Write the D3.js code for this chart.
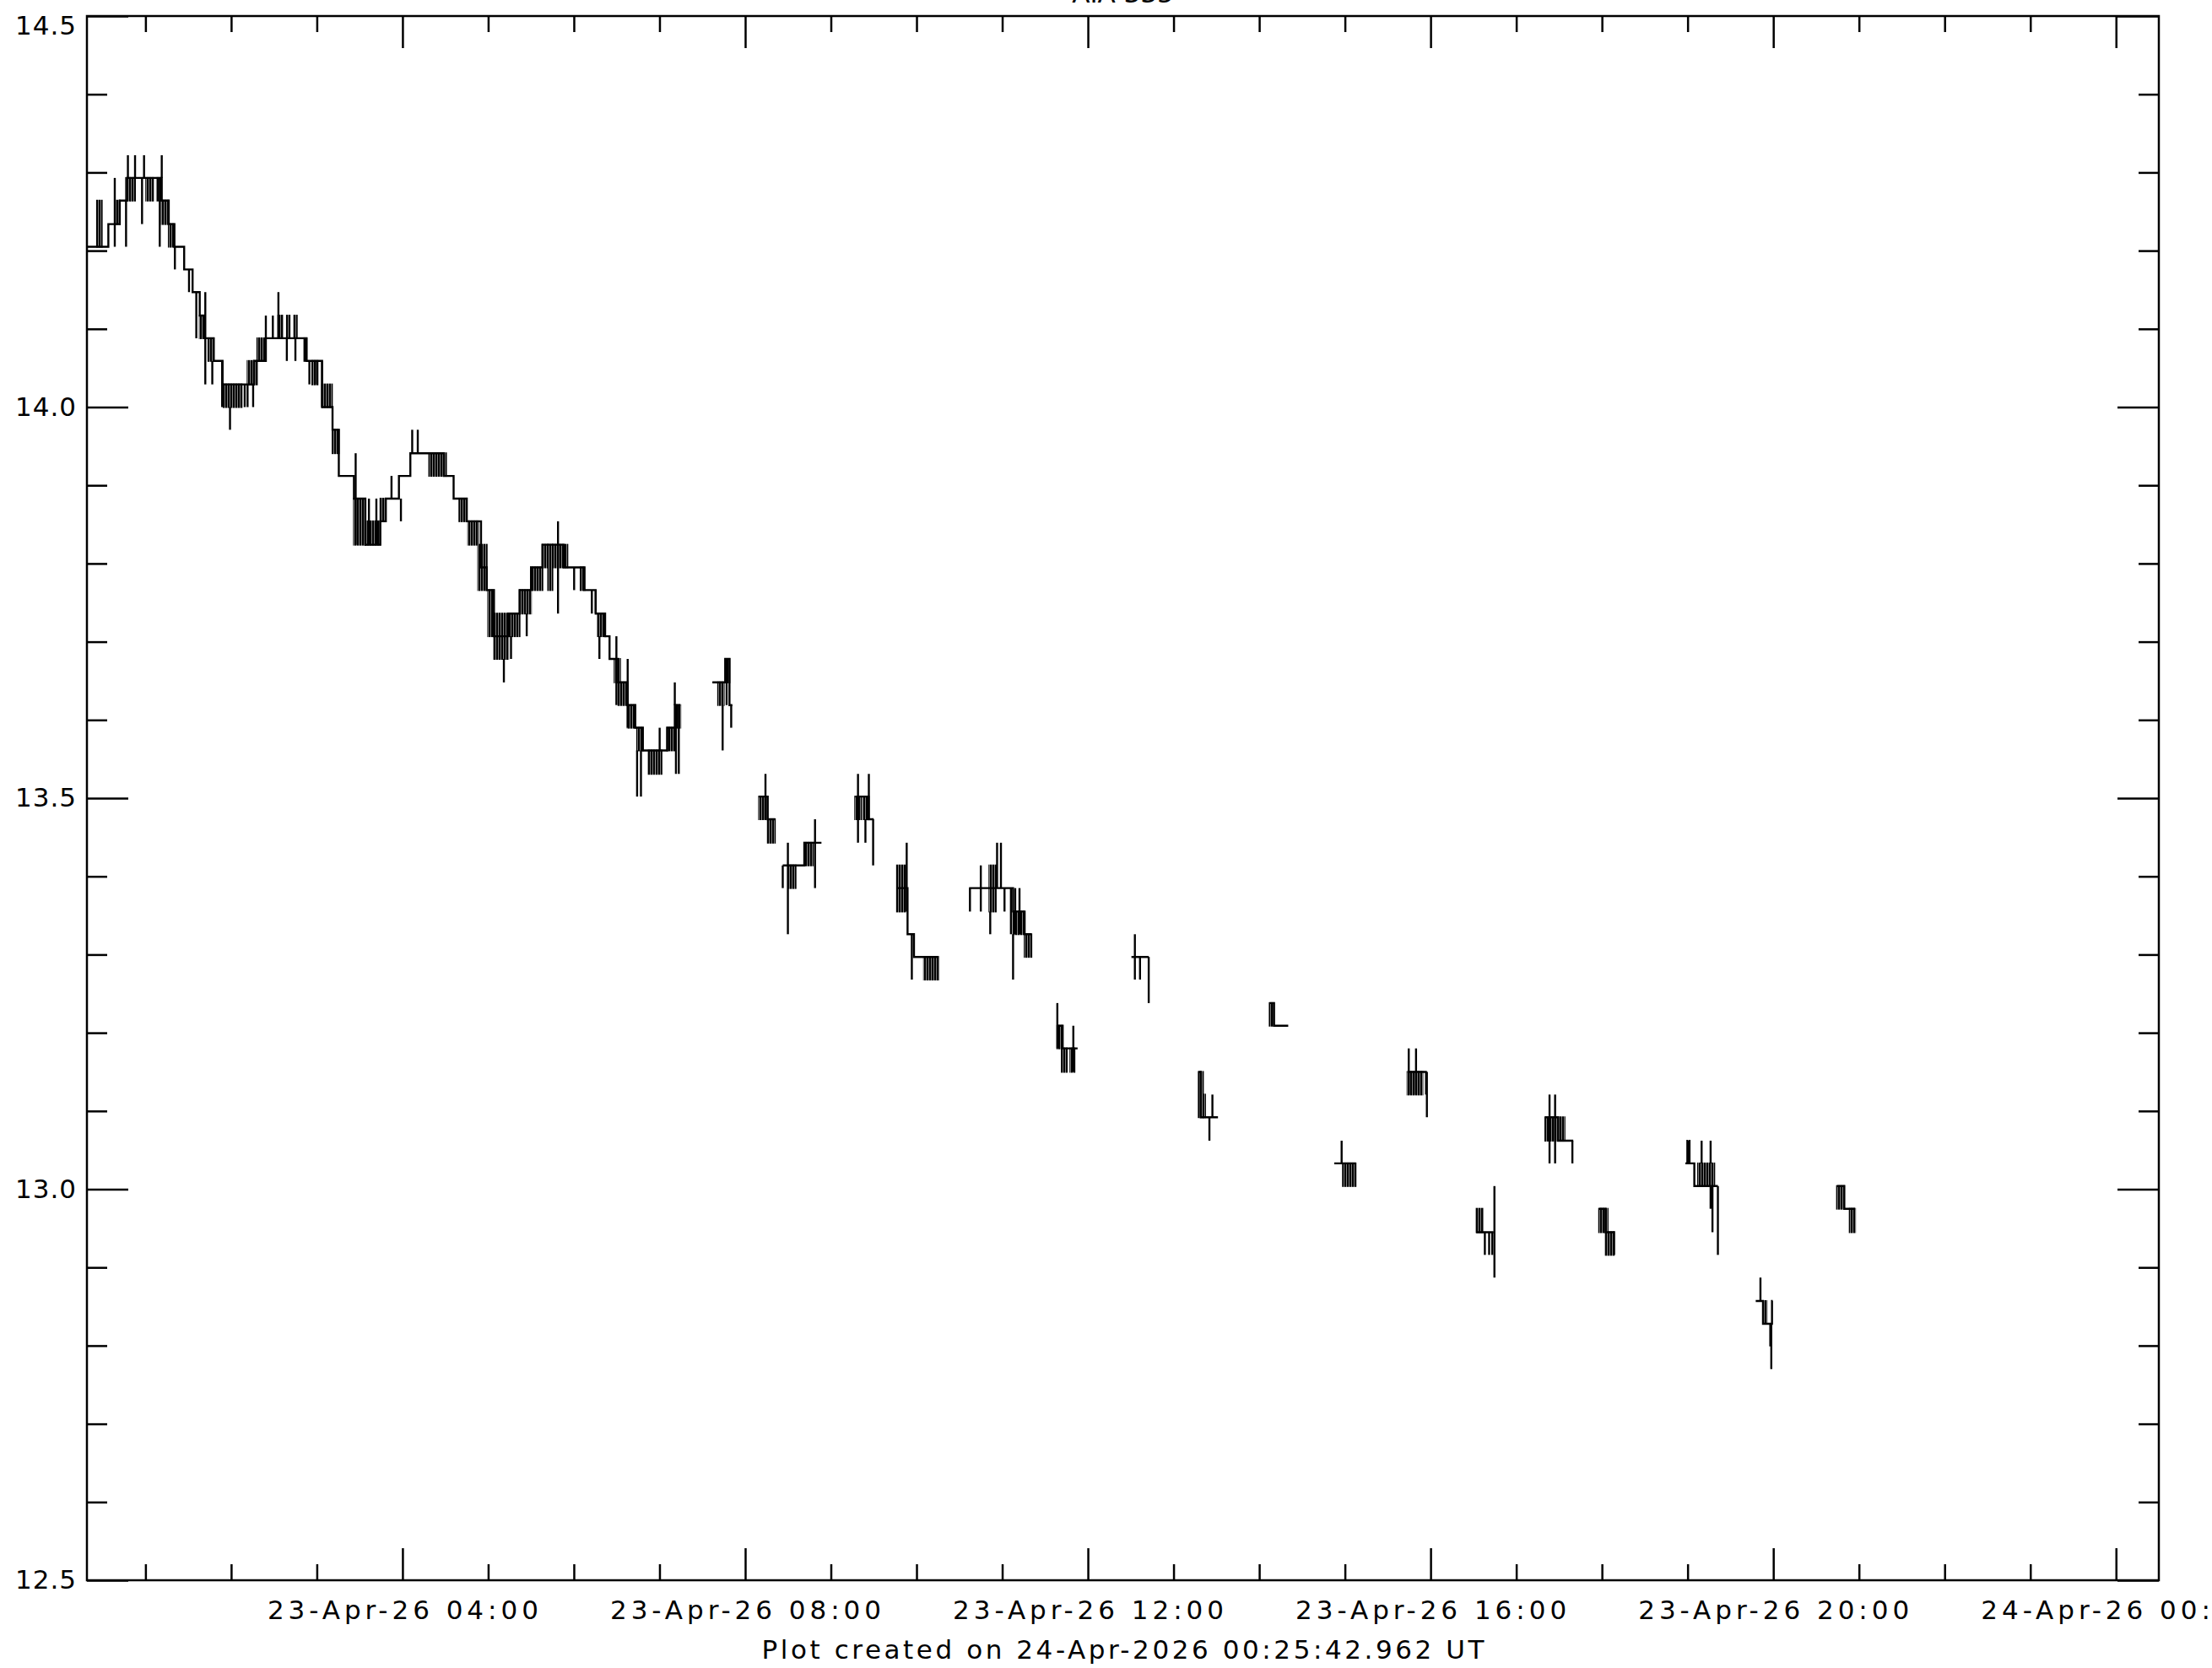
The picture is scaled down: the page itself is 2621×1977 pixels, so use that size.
<!DOCTYPE html>
<html>
<head>
<meta charset="utf-8">
<script src="https://cdn.jsdelivr.net/npm/d3@7"></script>
<style>
  html, body { margin: 0; padding: 0; background: #ffffff; }
  svg { display: block; }
  text { font-family: "DejaVu Sans", "Liberation Sans", sans-serif; fill: #000; }
</style>
</head>
<body>
<svg id="chart" width="2621" height="1977"></svg>
<script>
// ---------------- data (minutes counted from 23-Apr-2026 00:00 UT) ----------------
const titleText = "AIA 335";
const footerText = "Plot created on 24-Apr-2026 00:25:42.962 UT";
const baseTime = Date.UTC(2026, 3, 23, 0, 0, 0);
const xDomainMinutes = [19, 1470];
const yDomain = [12.5, 14.5];
const yMajorTicks = [12.5, 13.0, 13.5, 14.0, 14.5];
const yTickLabels = ["12.5", "13.0", "13.5", "14.0", "14.5"];
const xMajorTickMinutes = [240, 480, 720, 960, 1200, 1440];
const xTickLabels = ["23-Apr-26 04:00", "23-Apr-26 08:00", "23-Apr-26 12:00",
                     "23-Apr-26 16:00", "23-Apr-26 20:00", "24-Apr-26 00:00"];

// stepped trace: [minute, value] (value holds until next point); null = data gap
const stepPoints = [
  [19, 14.205], [34, 14.234], [42, 14.264], [47, 14.293], [71.4, 14.264], [76.3, 14.234],
  [80.2, 14.205], [87.1, 14.176], [93, 14.147], [98, 14.117], [101, 14.088], [107.8, 14.059],
  [114, 14.029], [136, 14.059], [144.3, 14.088], [172.8, 14.059], [183.7, 14.000], [191, 13.971],
  [195.4, 13.912], [206, 13.883], [214, 13.824], [224.4, 13.854], [228.3, 13.883], [237.5, 13.912],
  [245.5, 13.941], [269, 13.912], [275.8, 13.883], [285, 13.854], [295, 13.795], [299, 13.766],
  [304, 13.707], [314, 13.736], [322, 13.766], [330, 13.795], [338, 13.824], [352.9, 13.795],
  [367.4, 13.766], [375.3, 13.736], [381.9, 13.707], [385, 13.678], [391, 13.648], [397.7, 13.619],
  [403, 13.590], [408.3, 13.561], [425.4, 13.590], [430.7, 13.619], [434.6, 13.619], null,
  [457, 13.648], [466, 13.678], [469, 13.619], [471, 13.619], null,
  [489.5, 13.502], [495.7, 13.473], [501, 13.473], null,
  [506.3, 13.414], [521.4, 13.443], [533.4, 13.443], null,
  [557, 13.502], [566, 13.473], [570, 13.473], null,
  [586.2, 13.385], [593.7, 13.326], [598.2, 13.297], [615.4, 13.297], null,
  [636.8, 13.385], [667.6, 13.355], [675.7, 13.326], [680.5, 13.326], null,
  [698.6, 13.209], [702.3, 13.180], [712.8, 13.180], null,
  [750.5, 13.297], [762.6, 13.297], null,
  [797.6, 13.150], [799, 13.092], [811.1, 13.092], null,
  [847.3, 13.238], [850.3, 13.209], [860.3, 13.209], null,
  [892.5, 13.033], [907.6, 13.033], null,
  [943.8, 13.150], [957.4, 13.150], null,
  [992, 12.945], [1004.1, 12.945], null,
  [1040.3, 13.092], [1049.3, 13.062], [1059.9, 13.062], null,
  [1078, 12.975], [1082.5, 12.945], [1088.5, 12.916], null,
  [1138.4, 13.033], [1144.7, 13.004], [1161.2, 13.004], null,
  [1187.7, 12.857], [1192.8, 12.828], [1199.1, 12.857], [1199.6, 12.857], null,
  [1244.6, 13.004], [1249.7, 12.975], [1257.3, 12.975]
];

// rapid flicker between two adjacent levels: [startMinute, endMinute, low, high]
const flickerBands = [
  [26, 29.4, 14.205, 14.264], [38.5, 42, 14.234, 14.264], [46.4, 49, 14.264, 14.293],
  [49.7, 52.7, 14.264, 14.293], [60.5, 65.5, 14.264, 14.293], [68, 70.8, 14.264, 14.293],
  [71.4, 76.3, 14.234, 14.264], [76.3, 80.2, 14.205, 14.234], [98, 101, 14.088, 14.117],
  [104, 107.8, 14.059, 14.088], [114.7, 127.5, 14.000, 14.029], [131.5, 138.3, 14.029, 14.059],
  [138.3, 144.3, 14.059, 14.088], [153, 156, 14.088, 14.117], [159, 161, 14.088, 14.117],
  [164, 166, 14.088, 14.117], [171, 172.8, 14.059, 14.088], [176.8, 180.7, 14.029, 14.059],
  [183.7, 190.6, 14.000, 14.029], [191, 195.4, 13.941, 13.971], [206, 214, 13.824, 13.883],
  [214, 224.4, 13.824, 13.854], [224.4, 228.3, 13.854, 13.883], [258.7, 270.5, 13.912, 13.941],
  [279.8, 285, 13.854, 13.883], [286, 293, 13.824, 13.854], [293, 299, 13.766, 13.824],
  [300, 304, 13.707, 13.766], [304, 314, 13.678, 13.736], [314, 322, 13.707, 13.736],
  [322, 330, 13.736, 13.766], [330, 338, 13.766, 13.795], [338, 342, 13.795, 13.824],
  [342, 345, 13.766, 13.824], [345, 349, 13.795, 13.824], [350, 355.5, 13.795, 13.824],
  [364.7, 367.4, 13.766, 13.795], [376.6, 381.9, 13.707, 13.736], [388.5, 392.4, 13.648, 13.678],
  [391.1, 397.7, 13.619, 13.648], [397.7, 403, 13.590, 13.619], [404.3, 408.3, 13.561, 13.590],
  [412.2, 416.2, 13.531, 13.561], [417.5, 421.4, 13.531, 13.561], [425.4, 430.7, 13.561, 13.590],
  [431, 434.6, 13.590, 13.619],
  [461, 465, 13.619, 13.648], [466.3, 469, 13.648, 13.678],
  [489.7, 495.7, 13.473, 13.502], [495.7, 500.8, 13.443, 13.473],
  [510.8, 515.3, 13.385, 13.414], [521.4, 527.4, 13.414, 13.443],
  [557, 561, 13.473, 13.502], [562.5, 566.6, 13.473, 13.502],
  [586.2, 592.2, 13.355, 13.414], [605.2, 615.4, 13.268, 13.297],
  [651, 655.5, 13.355, 13.414], [667.6, 675.1, 13.326, 13.355], [675.7, 680.5, 13.297, 13.326],
  [698.6, 702.3, 13.180, 13.209], [701.7, 705.3, 13.150, 13.180], [707.7, 710.7, 13.150, 13.180],
  [797.6, 800.6, 13.092, 13.150], [800.6, 802.1, 13.092, 13.121],
  [847.3, 850.3, 13.209, 13.238],
  [898.6, 907.6, 13.004, 13.033],
  [943.8, 954.3, 13.121, 13.150],
  [992, 996.6, 12.945, 12.975],
  [1040.3, 1053.8, 13.062, 13.092],
  [1078, 1084, 12.945, 12.975], [1082.5, 1088.5, 12.916, 12.945],
  [1139.7, 1141.5, 13.033, 13.062], [1147.3, 1158.7, 13.004, 13.033],
  [1192.8, 1195.3, 12.828, 12.857],
  [1244.6, 1249.7, 12.975, 13.004], [1253.5, 1257.3, 12.945, 12.975]
];

// single-sample excursions: [minute, from, to]
const spikes = [
  [38.5, 14.205, 14.293], [46.4, 14.205, 14.264], [47.7, 14.293, 14.322], [52.7, 14.293, 14.322],
  [57.6, 14.234, 14.293], [59, 14.293, 14.322], [70, 14.205, 14.293], [71.4, 14.293, 14.322],
  [80.6, 14.176, 14.205], [90.5, 14.147, 14.176], [95.6, 14.088, 14.147], [101.9, 14.029, 14.147],
  [106.8, 14.029, 14.059], [113.7, 14.000, 14.059], [119.2, 13.971, 14.000], [129.5, 14.000, 14.029],
  [131.5, 14.000, 14.029], [135.4, 14.000, 14.029], [144.3, 14.088, 14.117], [149.2, 14.088, 14.117],
  [153.1, 14.088, 14.147], [159, 14.059, 14.088], [165, 14.059, 14.088], [174.8, 14.029, 14.059],
  [178.8, 14.029, 14.059], [183.7, 14.000, 14.059], [207.2, 13.824, 13.941], [216.5, 13.824, 13.883],
  [221.7, 13.824, 13.883], [232.3, 13.883, 13.912], [238.9, 13.854, 13.883], [246.8, 13.941, 13.971],
  [250.7, 13.941, 13.971], [311, 13.648, 13.678], [316, 13.678, 13.707], [327, 13.707, 13.736],
  [348.9, 13.736, 13.854], [360.2, 13.766, 13.795], [372.6, 13.736, 13.766], [375.3, 13.736, 13.766],
  [377.9, 13.678, 13.707], [389.8, 13.619, 13.707], [397.7, 13.590, 13.678], [404.3, 13.502, 13.561],
  [407, 13.502, 13.561], [420.1, 13.561, 13.590], [430.7, 13.619, 13.648], [431.5, 13.531, 13.619],
  [433.5, 13.531, 13.619],
  [464.2, 13.561, 13.619], [467, 13.619, 13.678], [470.2, 13.590, 13.619],
  [494.2, 13.473, 13.531],
  [506.3, 13.385, 13.414], [509.9, 13.326, 13.443], [528.9, 13.385, 13.473],
  [559, 13.443, 13.531], [564.2, 13.443, 13.473], [566.6, 13.473, 13.531], [569.6, 13.414, 13.473],
  [593.1, 13.355, 13.443], [596.7, 13.268, 13.326],
  [637.4, 13.355, 13.385], [645, 13.355, 13.414], [651.6, 13.326, 13.355], [656.4, 13.385, 13.443],
  [659.1, 13.385, 13.443], [661.6, 13.355, 13.385], [666.1, 13.326, 13.385], [667.6, 13.268, 13.326],
  [669.1, 13.326, 13.385], [672.1, 13.326, 13.385],
  [698.6, 13.180, 13.238], [709.8, 13.150, 13.209],
  [752.9, 13.268, 13.326], [756.5, 13.268, 13.297], [762.6, 13.238, 13.297],
  [805.1, 13.062, 13.092], [807.2, 13.092, 13.121],
  [897.7, 13.033, 13.062],
  [944.7, 13.121, 13.180], [949.8, 13.121, 13.180], [956.8, 13.121, 13.150], [957.4, 13.092, 13.150],
  [998, 12.916, 12.945], [1001, 12.916, 12.945], [1003.2, 12.916, 12.945], [1004.7, 12.887, 13.004],
  [1043.3, 13.033, 13.121], [1047.2, 13.033, 13.121], [1059.3, 13.033, 13.062],
  [1140.4, 13.033, 13.062], [1149.8, 13.033, 13.062], [1156.1, 13.033, 13.062],
  [1156.1, 12.975, 13.004], [1157.4, 12.945, 13.004], [1161.2, 12.916, 13.004],
  [1191, 12.857, 12.887], [1197.9, 12.799, 12.828], [1198.6, 12.770, 12.828]
];

// ---------------- drawing ----------------
const toDate = m => new Date(baseTime + m * 60000);
const W = 2621, H = 1977;
const plot = { left: 103, right: 2558, top: 19, bottom: 1873 };
const svg = d3.select("#chart");
svg.append("rect").attr("width", W).attr("height", H).attr("fill", "#fff");

// dense vertical hatch for rapid flicker regions (one sample per minute)
const defs = svg.append("defs");
const pat = defs.append("pattern").attr("id", "flicker")
  .attr("patternUnits", "userSpaceOnUse").attr("width", 3.0).attr("height", 10);
pat.append("rect").attr("width", 3.0).attr("height", 10).attr("fill", "#fff");
pat.append("rect").attr("width", 2.5).attr("height", 10).attr("fill", "#000");

const x = d3.scaleUtc().domain(xDomainMinutes.map(toDate)).range([plot.left, plot.right]);
const y = d3.scaleLinear().domain(yDomain).range([plot.bottom, plot.top]);

const hourTicks = d3.utcHour.every(1).range(x.domain()[0], x.domain()[1]);
const minorX = hourTicks.filter(d => d.getUTCHours() % 4 !== 0);
const majorX = xMajorTickMinutes.map(toDate);
const allY = y.ticks(20);
const minorY = allY.filter(v => !yMajorTicks.some(t => Math.abs(t - v) < 1e-6));

const axisStroke = 2.5;
function styleAxis(g) {
  g.select(".domain").remove();
  g.selectAll(".tick line").attr("stroke", "#000").attr("stroke-width", axisStroke);
}

// bottom
svg.append("g").attr("transform", `translate(0,${plot.bottom})`)
  .call(d3.axisBottom(x).tickValues(minorX).tickSize(-19).tickSizeOuter(0).tickFormat(""))
  .call(styleAxis);
const bottomMajor = svg.append("g").attr("transform", `translate(0,${plot.bottom})`)
  .call(d3.axisBottom(x).tickValues(majorX).tickSize(-38).tickSizeOuter(0).tickPadding(24)
        .tickFormat((d, i) => xTickLabels[i]))
  .call(styleAxis);
bottomMajor.selectAll(".tick text")
  .attr("font-size", 31).attr("font-family", "DejaVu Sans")
  .attr("textLength", 321).attr("lengthAdjust", "spacing")
  .attr("fill", "#000");

// top
svg.append("g").attr("transform", `translate(0,${plot.top})`)
  .call(d3.axisTop(x).tickValues(minorX).tickSize(-19).tickSizeOuter(0).tickFormat(""))
  .call(styleAxis);
svg.append("g").attr("transform", `translate(0,${plot.top})`)
  .call(d3.axisTop(x).tickValues(majorX).tickSize(-38).tickSizeOuter(0).tickFormat(""))
  .call(styleAxis);

// left
svg.append("g").attr("transform", `translate(${plot.left},0)`)
  .call(d3.axisLeft(y).tickValues(minorY).tickSize(-24).tickSizeOuter(0).tickFormat(""))
  .call(styleAxis);
const leftMajor = svg.append("g").attr("transform", `translate(${plot.left},0)`)
  .call(d3.axisLeft(y).tickValues(yMajorTicks).tickSize(-49).tickSizeOuter(0).tickPadding(13)
        .tickFormat((d, i) => yTickLabels[i]))
  .call(styleAxis);
leftMajor.selectAll(".tick text")
  .attr("font-size", 31).attr("font-family", "DejaVu Sans")
  .attr("textLength", 72).attr("lengthAdjust", "spacing")
  .attr("fill", "#000")
  .attr("dy", (d) => d === yDomain[1] ? "0.68em" : "0.32em");

// right
svg.append("g").attr("transform", `translate(${plot.right},0)`)
  .call(d3.axisRight(y).tickValues(minorY).tickSize(-24).tickSizeOuter(0).tickFormat(""))
  .call(styleAxis);
svg.append("g").attr("transform", `translate(${plot.right},0)`)
  .call(d3.axisRight(y).tickValues(yMajorTicks).tickSize(-49).tickSizeOuter(0).tickFormat(""))
  .call(styleAxis);

// frame
svg.append("rect")
  .attr("x", plot.left).attr("y", plot.top)
  .attr("width", plot.right - plot.left).attr("height", plot.bottom - plot.top)
  .attr("fill", "none").attr("stroke", "#000").attr("stroke-width", axisStroke);

// data
const dataStroke = 2.4;
const dataG = svg.append("g");
dataG.selectAll("rect.band").data(flickerBands).join("rect")
  .attr("class", "band")
  .attr("x", d => x(toDate(d[0])) - 1)
  .attr("width", d => x(toDate(d[1])) - x(toDate(d[0])) + 2)
  .attr("y", d => y(d[3]) - 1)
  .attr("height", d => y(d[2]) - y(d[3]) + 2)
  .attr("fill", "url(#flicker)");

const line = d3.line()
  .defined(d => d !== null)
  .x(d => x(toDate(d[0])))
  .y(d => y(d[1]))
  .curve(d3.curveStepAfter);
dataG.append("path").datum(stepPoints)
  .attr("d", line).attr("fill", "none").attr("stroke", "#000").attr("stroke-width", dataStroke);

dataG.selectAll("line.spike").data(spikes).join("line")
  .attr("class", "spike")
  .attr("x1", d => x(toDate(d[0]))).attr("x2", d => x(toDate(d[0])))
  .attr("y1", d => y(d[1])).attr("y2", d => y(d[2]))
  .attr("stroke", "#000").attr("stroke-width", dataStroke);

// title (largely above the visible area, as in the original) and footer
svg.append("text").attr("x", (plot.left + plot.right) / 2).attr("y", 3)
  .attr("text-anchor", "middle").attr("font-size", 31).text(titleText);
svg.append("text").attr("x", (plot.left + plot.right) / 2).attr("y", 1966)
  .attr("text-anchor", "middle").attr("font-size", 31)
  .attr("textLength", 856).attr("lengthAdjust", "spacing").text(footerText);
</script>
</body>
</html>
